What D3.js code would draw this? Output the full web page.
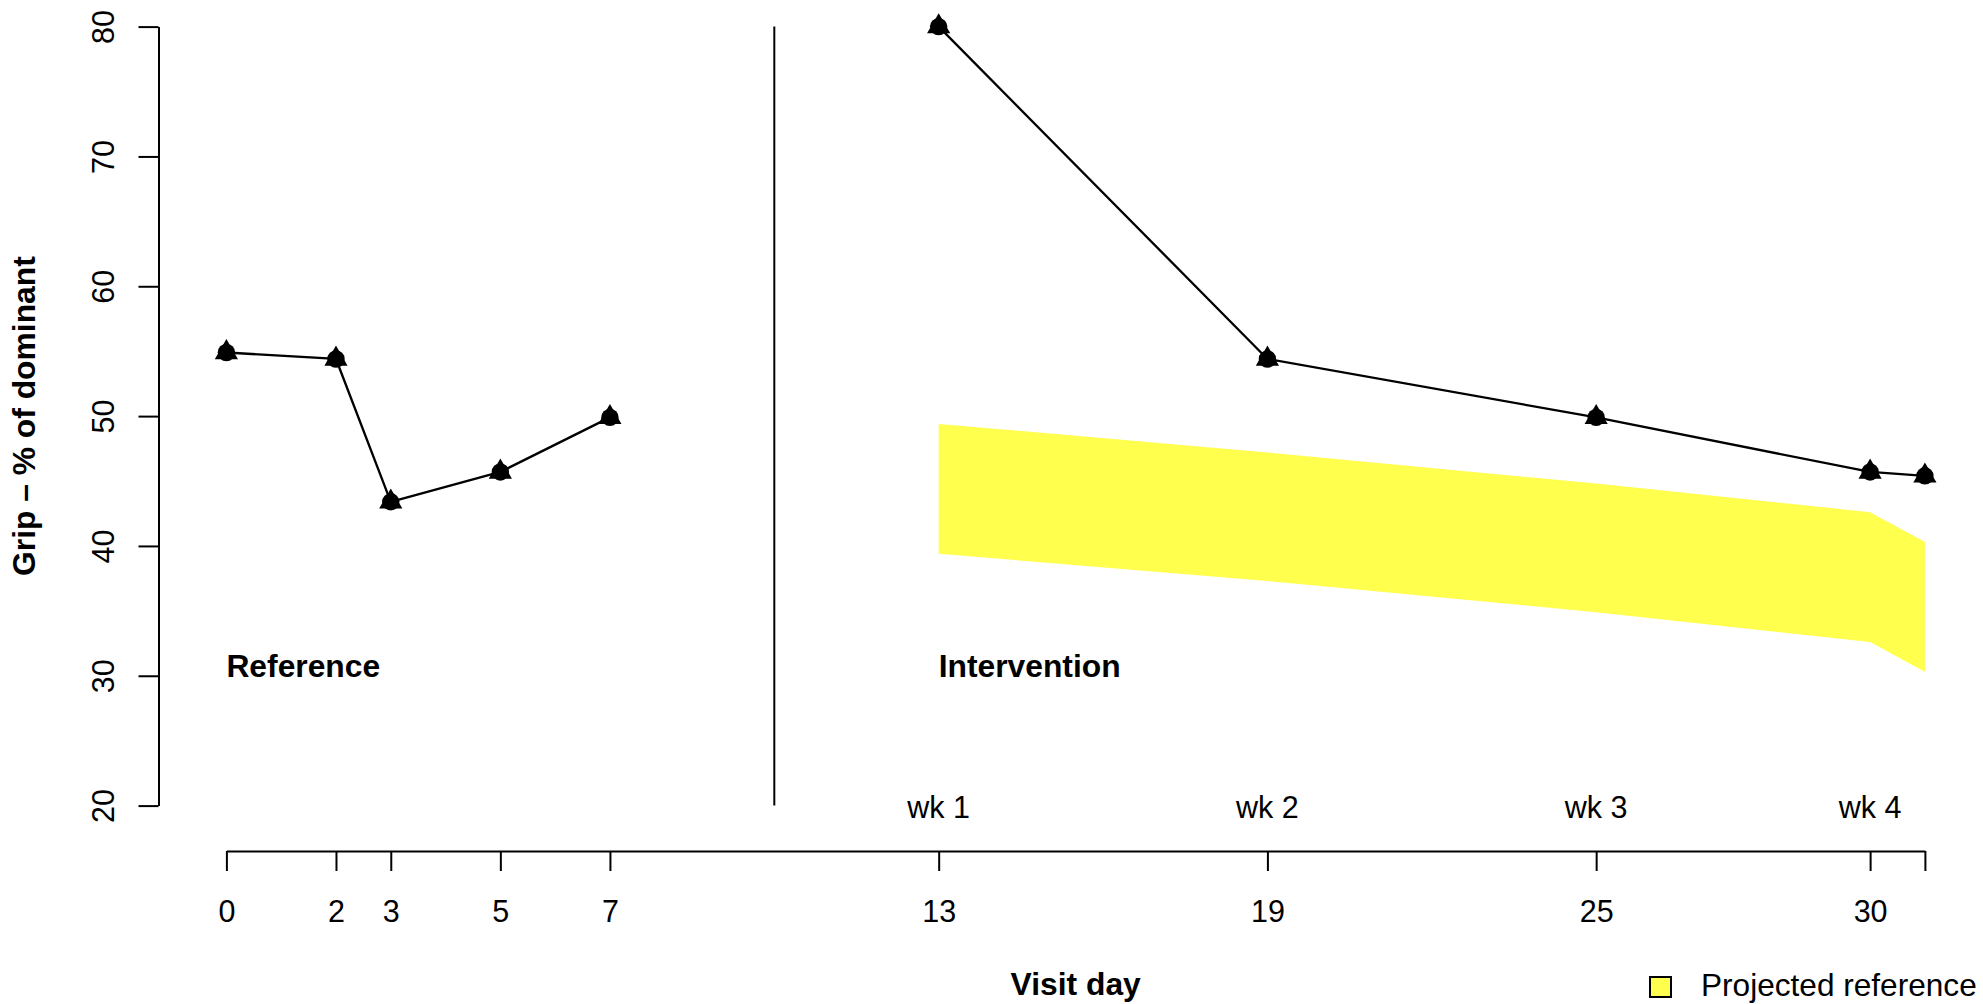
<!DOCTYPE html>
<html>
<head>
<meta charset="utf-8">
<title>Grip strength by visit day</title>
<style>
  body { margin: 0; padding: 0; background: #ffffff; }
  svg { display: block; font-family: 'Liberation Sans', Arial, Helvetica, sans-serif; }
  .axis path, .axis line { stroke: #000; stroke-width: 2; }
  .axis text { font-size: 30.5px; fill: #000; font-family: 'Liberation Sans', Arial, sans-serif; }
  .series { fill: none; stroke: #000; stroke-width: 2.3; }
  .label { font-size: 30.5px; fill: #000; }
  .legend { font-size: 31.6px; fill: #000; }
  .bold { font-weight: bold; font-size: 31.8px; }
</style>
</head>
<body>
<div id="chart"></div>
<script src="https://d3js.org/d3.v7.min.js"></script>
<script>

// reference period (visit day, grip % of dominant)
var refDays = [0, 2, 3, 5, 7]
var refGrip = [54.9, 54.4, 43.4, 45.7, 49.9]

// intervention period
var intDays = [13, 19, 25, 30, 31]
var intGrip = [80, 54.4, 49.9, 45.7, 45.4]

// projected reference band (upper / lower)
var bandDays = [13, 19, 25, 30, 31]
var bandHigh = [49.4, 47.2, 44.8, 42.6, 40.3]
var bandLow  = [39.4, 37.3, 34.9, 32.6, 30.3]

// axis ticks and labels
var xTicks = [0, 2, 3, 5, 7, 13, 19, 25, 30, 31]
var xTickLabels = ["0", "2", "3", "5", "7", "13", "19", "25", "30", ""]
var yTicks = [20, 30, 40, 50, 60, 70, 80]
var weekDays = [13, 19, 25, 30]
var weekLabels = ["wk 1", "wk 2", "wk 3", "wk 4"]
var dividerDay = 10

var width = 1983,
    height = 1004

var svg = d3.select("#chart")
  .append("svg")
  .attr("width", width)
  .attr("height", height)

var x = d3.scaleLinear().domain([0, 31]).range([226.4, 1924.9])
var y = d3.scaleLinear().domain([20, 80]).range([805.6, 26.6])

// yellow projected band
var band = bandDays.map(function (d, i) {
  return { day: d, hi: bandHigh[i], lo: bandLow[i] }
})
svg.append("path")
  .datum(band)
  .attr("fill", "#ffff4d")
  .attr("d", d3.area()
    .x(function (d) { return x(d.day) })
    .y0(function (d) { return y(d.lo) })
    .y1(function (d) { return y(d.hi) }))

// y axis
var yAxis = svg.append("g")
  .attr("class", "axis")
  .attr("transform", "translate(158.5,0)")
  .call(d3.axisLeft(y).tickValues(yTicks).tickSize(20).tickSizeOuter(0))
yAxis.selectAll("text")
  .attr("x", 0)
  .attr("dy", null)
  .attr("text-anchor", "middle")
  .attr("transform", "translate(-44.5,0) rotate(-90)")

// x axis
var xAxis = svg.append("g")
  .attr("class", "axis")
  .attr("transform", "translate(0,851)")
  .call(d3.axisBottom(x).tickValues(xTicks).tickSize(20).tickSizeOuter(0)
    .tickFormat(function (d, i) { return xTickLabels[i] }))
xAxis.selectAll("text")
  .attr("y", 71)
  .attr("dy", null)

// divider between reference and intervention
svg.append("line")
  .attr("x1", x(dividerDay)).attr("x2", x(dividerDay))
  .attr("y1", y(20)).attr("y2", y(80))
  .attr("stroke", "#000")
  .attr("stroke-width", 2)

// week labels
svg.append("g").selectAll("text")
  .data(weekDays)
  .enter().append("text")
  .attr("class", "label")
  .attr("x", function (d) { return x(d) })
  .attr("y", y(20) + 12)
  .attr("text-anchor", "middle")
  .text(function (d, i) { return weekLabels[i] })

// lines and markers
var line = d3.line()
  .x(function (d) { return x(d[0]) })
  .y(function (d) { return y(d[1]) })

function drawSeries(days, vals) {
  var pts = days.map(function (d, i) { return [d, vals[i]] })
  svg.append("path").datum(pts).attr("class", "series").attr("d", line)
  var r = 13.4
  var g = svg.append("g").selectAll("g")
    .data(pts)
    .enter().append("g")
    .attr("transform", function (d) { return "translate(" + x(d[0]) + "," + y(d[1]) + ")" })
  g.append("circle").attr("r", 8.7).attr("fill", "#000")
  g.append("path")
    .attr("fill", "#000")
    .attr("d", "M0," + (-r) + "L" + (r * Math.sqrt(3) / 2) + "," + (r / 2) +
               "L" + (-r * Math.sqrt(3) / 2) + "," + (r / 2) + "Z")
}
drawSeries(refDays, refGrip)
drawSeries(intDays, intGrip)

// period labels
svg.append("text").attr("class", "label bold")
  .attr("x", x(0)).attr("y", y(30) + 1)
  .text("Reference")
svg.append("text").attr("class", "label bold")
  .attr("x", x(13)).attr("y", y(30) + 1)
  .text("Intervention")

// axis titles
svg.append("text").attr("class", "label bold")
  .attr("text-anchor", "middle")
  .attr("transform", "translate(35," + ((y(20) + y(80)) / 2) + ") rotate(-90)")
  .text("Grip \u2013 % of dominant")
svg.append("text").attr("class", "label bold")
  .attr("text-anchor", "middle")
  .attr("x", x(15.5)).attr("y", 995)
  .text("Visit day")

// legend
svg.append("rect")
  .attr("x", 1650).attr("y", 977)
  .attr("width", 21).attr("height", 20)
  .attr("fill", "#ffff4d")
  .attr("stroke", "#000")
  .attr("stroke-width", 2)
svg.append("text").attr("class", "legend")
  .attr("x", 1701).attr("y", 996)
  .text("Projected reference")

</script>
</body>
</html>
